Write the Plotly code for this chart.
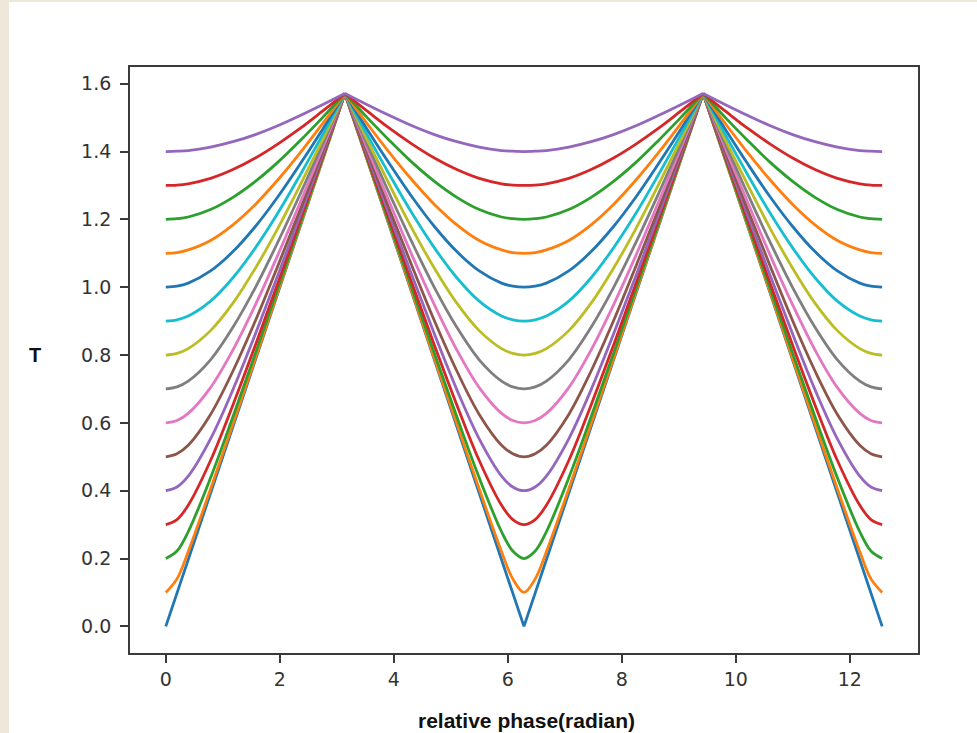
import plotly.graph_objects as go

# ── Data ────────────────────────────────────────────────────────────────────

phase = [
    0.000, 0.196, 0.393, 0.785, 1.178, 1.571, 1.963, 2.356, 2.749, 3.142,
    3.534, 3.927, 4.320, 4.712, 5.105, 5.498, 5.890, 6.087, 6.283,
    6.480, 6.676, 7.069, 7.461, 7.854, 8.247, 8.639, 9.032, 9.425,
    9.817, 10.210, 10.603, 10.996, 11.388, 11.781, 12.174, 12.370, 12.566,
]

t_00 = [0.000, 0.098, 0.196, 0.393, 0.589, 0.785, 0.982, 1.178, 1.374, 1.571,
        1.374, 1.178, 0.982, 0.785, 0.589, 0.393, 0.196, 0.098, 0.000,
        0.098, 0.196, 0.393, 0.589, 0.785, 0.982, 1.178, 1.374, 1.571,
        1.374, 1.178, 0.982, 0.785, 0.589, 0.393, 0.196, 0.098, 0.000]
t_01 = [0.100, 0.140, 0.220, 0.405, 0.597, 0.790, 0.985, 1.180, 1.375, 1.571,
        1.375, 1.180, 0.985, 0.790, 0.597, 0.405, 0.220, 0.140, 0.100,
        0.140, 0.220, 0.405, 0.597, 0.790, 0.985, 1.180, 1.375, 1.571,
        1.375, 1.180, 0.985, 0.790, 0.597, 0.405, 0.220, 0.140, 0.100]
t_02 = [0.200, 0.222, 0.279, 0.438, 0.618, 0.805, 0.995, 1.186, 1.378, 1.571,
        1.378, 1.186, 0.995, 0.805, 0.618, 0.438, 0.279, 0.222, 0.200,
        0.222, 0.279, 0.438, 0.618, 0.805, 0.995, 1.186, 1.378, 1.571,
        1.378, 1.186, 0.995, 0.805, 0.618, 0.438, 0.279, 0.222, 0.200]
t_03 = [0.300, 0.315, 0.357, 0.489, 0.653, 0.829, 1.011, 1.197, 1.383, 1.571,
        1.383, 1.197, 1.011, 0.829, 0.653, 0.489, 0.357, 0.315, 0.300,
        0.315, 0.357, 0.489, 0.653, 0.829, 1.011, 1.197, 1.383, 1.571,
        1.383, 1.197, 1.011, 0.829, 0.653, 0.489, 0.357, 0.315, 0.300]
t_04 = [0.400, 0.411, 0.443, 0.553, 0.698, 0.862, 1.034, 1.211, 1.390, 1.571,
        1.390, 1.211, 1.034, 0.862, 0.698, 0.553, 0.443, 0.411, 0.400,
        0.411, 0.443, 0.553, 0.698, 0.862, 1.034, 1.211, 1.390, 1.571,
        1.390, 1.211, 1.034, 0.862, 0.698, 0.553, 0.443, 0.411, 0.400]
t_05 = [0.500, 0.509, 0.534, 0.625, 0.753, 0.901, 1.062, 1.228, 1.399, 1.571,
        1.399, 1.228, 1.062, 0.901, 0.753, 0.625, 0.534, 0.509, 0.500,
        0.509, 0.534, 0.625, 0.753, 0.901, 1.062, 1.228, 1.399, 1.571,
        1.399, 1.228, 1.062, 0.901, 0.753, 0.625, 0.534, 0.509, 0.500]
t_06 = [0.600, 0.607, 0.628, 0.704, 0.815, 0.948, 1.094, 1.249, 1.409, 1.571,
        1.409, 1.249, 1.094, 0.948, 0.815, 0.704, 0.628, 0.607, 0.600,
        0.607, 0.628, 0.704, 0.815, 0.948, 1.094, 1.249, 1.409, 1.571,
        1.409, 1.249, 1.094, 0.948, 0.815, 0.704, 0.628, 0.607, 0.600]
t_07 = [0.700, 0.706, 0.723, 0.786, 0.882, 0.999, 1.132, 1.274, 1.421, 1.571,
        1.421, 1.274, 1.132, 0.999, 0.882, 0.786, 0.723, 0.706, 0.700,
        0.706, 0.723, 0.786, 0.882, 0.999, 1.132, 1.274, 1.421, 1.571,
        1.421, 1.274, 1.132, 0.999, 0.882, 0.786, 0.723, 0.706, 0.700]
t_08 = [0.800, 0.805, 0.819, 0.872, 0.953, 1.056, 1.173, 1.301, 1.434, 1.571,
        1.434, 1.301, 1.173, 1.056, 0.953, 0.872, 0.819, 0.805, 0.800,
        0.805, 0.819, 0.872, 0.953, 1.056, 1.173, 1.301, 1.434, 1.571,
        1.434, 1.301, 1.173, 1.056, 0.953, 0.872, 0.819, 0.805, 0.800]
t_09 = [0.900, 0.904, 0.915, 0.959, 1.028, 1.116, 1.218, 1.331, 1.449, 1.571,
        1.449, 1.331, 1.218, 1.116, 1.028, 0.959, 0.915, 0.904, 0.900,
        0.904, 0.915, 0.959, 1.028, 1.116, 1.218, 1.331, 1.449, 1.571,
        1.449, 1.331, 1.218, 1.116, 1.028, 0.959, 0.915, 0.904, 0.900]
t_10 = [1.000, 1.003, 1.012, 1.048, 1.105, 1.179, 1.266, 1.363, 1.465, 1.571,
        1.465, 1.363, 1.266, 1.179, 1.105, 1.048, 1.012, 1.003, 1.000,
        1.003, 1.012, 1.048, 1.105, 1.179, 1.266, 1.363, 1.465, 1.571,
        1.465, 1.363, 1.266, 1.179, 1.105, 1.048, 1.012, 1.003, 1.000]
t_11 = [1.100, 1.102, 1.110, 1.138, 1.184, 1.244, 1.316, 1.396, 1.482, 1.571,
        1.482, 1.396, 1.316, 1.244, 1.184, 1.138, 1.110, 1.102, 1.100,
        1.102, 1.110, 1.138, 1.184, 1.244, 1.316, 1.396, 1.482, 1.571,
        1.482, 1.396, 1.316, 1.244, 1.184, 1.138, 1.110, 1.102, 1.100]
t_12 = [1.200, 1.202, 1.207, 1.229, 1.265, 1.312, 1.368, 1.432, 1.500, 1.571,
        1.500, 1.432, 1.368, 1.312, 1.265, 1.229, 1.207, 1.202, 1.200,
        1.202, 1.207, 1.229, 1.265, 1.312, 1.368, 1.432, 1.500, 1.571,
        1.500, 1.432, 1.368, 1.312, 1.265, 1.229, 1.207, 1.202, 1.200]
t_13 = [1.300, 1.301, 1.305, 1.321, 1.347, 1.381, 1.422, 1.468, 1.519, 1.571,
        1.519, 1.468, 1.422, 1.381, 1.347, 1.321, 1.305, 1.301, 1.300,
        1.301, 1.305, 1.321, 1.347, 1.381, 1.422, 1.468, 1.519, 1.571,
        1.519, 1.468, 1.422, 1.381, 1.347, 1.321, 1.305, 1.301, 1.300]
t_14 = [1.400, 1.401, 1.403, 1.413, 1.429, 1.450, 1.476, 1.506, 1.538, 1.571,
        1.538, 1.506, 1.476, 1.450, 1.429, 1.413, 1.403, 1.401, 1.400,
        1.401, 1.403, 1.413, 1.429, 1.450, 1.476, 1.506, 1.538, 1.571,
        1.538, 1.506, 1.476, 1.450, 1.429, 1.413, 1.403, 1.401, 1.400]

curves = [t_00, t_01, t_02, t_03, t_04, t_05, t_06, t_07,
          t_08, t_09, t_10, t_11, t_12, t_13, t_14]

# matplotlib default colour cycle
tab10 = ["#1f77b4", "#ff7f0e", "#2ca02c", "#d62728", "#9467bd",
         "#8c564b", "#e377c2", "#7f7f7f", "#bcbd22", "#17becf"]

x_ticks = [0, 2, 4, 6, 8, 10, 12]
y_ticks = [0.0, 0.2, 0.4, 0.6, 0.8, 1.0, 1.2, 1.4, 1.6]

# ── Figure ──────────────────────────────────────────────────────────────────

W, H = 977, 733
L, R, T, B = 130, 59, 67, 80
pw, ph = W - L - R, H - T - B


def px_x(p):
    return (p - L) / pw


def px_y(p):
    return (H - B - p) / ph


# the curves have sharp cusps at the peaks (x = pi, 3pi): draw each piece
# between peaks separately so the spline smoothing only rounds the valleys
peak_idx = [i for i, v in enumerate(t_00) if v == max(t_00)]
bounds = [0] + peak_idx + [len(phase) - 1]

fig = go.Figure()
for i, ys in enumerate(curves):
    shape = "linear" if i == 0 else "spline"
    for a, b in zip(bounds[:-1], bounds[1:]):
        fig.add_trace(go.Scatter(
            x=phase[a:b + 1], y=ys[a:b + 1], mode="lines",
            line=dict(color=tab10[i % 10], width=2.8, shape=shape),
            showlegend=False, hoverinfo="skip",
        ))

axis_common = dict(
    showgrid=False, zeroline=False,
    showline=True, mirror=True, linecolor="#3a3a3a", linewidth=1.8,
    ticks="outside", ticklen=8, tickwidth=1.6, tickcolor="#3a3a3a",
    tickfont=dict(family="DejaVu Sans", size=19, color="#333333"),
)
fig.update_xaxes(range=[-0.628, 13.195], tickvals=x_ticks,
                 ticklabelstandoff=0, **axis_common)
fig.update_yaxes(range=[-0.0785, 1.6493], tickvals=y_ticks, tickformat=".1f",
                 ticklabelstandoff=5, **axis_common)

fig.add_annotation(text="<b>T</b>", xref="paper", yref="paper",
                   x=px_x(35), y=px_y(355), xanchor="center", yanchor="middle",
                   showarrow=False,
                   font=dict(family="Liberation Sans, Arial", size=20, color="#111111"))
fig.add_annotation(text="<b>relative phase(radian)</b>", xref="paper", yref="paper",
                   x=px_x(526), y=px_y(720), xanchor="center", yanchor="middle",
                   showarrow=False,
                   font=dict(family="Liberation Sans, Arial", size=21, color="#111111"))

# beige page border visible at the left and top of the screenshot
beige = "#efe7da"
fig.add_shape(type="rect", xref="paper", yref="paper", layer="below",
              x0=px_x(0), x1=px_x(9), y0=px_y(H), y1=px_y(0),
              fillcolor=beige, line_width=0)
fig.add_shape(type="rect", xref="paper", yref="paper", layer="below",
              x0=px_x(0), x1=px_x(W), y0=px_y(2), y1=px_y(0),
              fillcolor=beige, line_width=0)

fig.update_layout(
    width=W, height=H,
    margin=dict(l=L, r=R, t=T, b=B),
    paper_bgcolor="white", plot_bgcolor="white",
)

fig.write_html("out.html", config={"displayModeBar": False},
               post_script="document.body.style.margin = '0';")
